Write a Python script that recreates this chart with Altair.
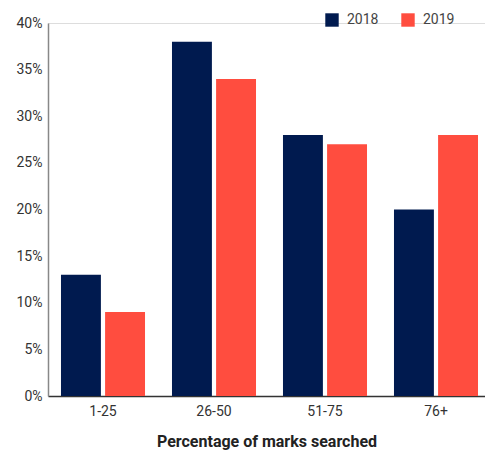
import altair as alt
import pandas as pd

# Share of respondents by percentage of marks searched
ranges = ["1-25", "26-50", "51-75", "76+"]
share_2018 = [13, 38, 28, 20]
share_2019 = [9, 34, 27, 28]
years = ["2018", "2019"]
colors = ["#001A4F", "#FF4D3F"]

rows = []
for r, a, b in zip(ranges, share_2018, share_2019):
    rows.append({"range": r, "year": years[0], "share": a / 100})
    rows.append({"range": r, "year": years[1], "share": b / 100})
df = pd.DataFrame(rows)

FONT = "Roboto"

chart = (
    alt.Chart(df)
    .mark_bar()
    .encode(
        x=alt.X(
            "range:N",
            sort=ranges,
            scale=alt.Scale(paddingInner=0.243, paddingOuter=0.09, align=0.65),
            axis=alt.Axis(
                title="Percentage of marks searched",
                labelAngle=0,
                labelFontSize=14,
                labelColor="#333333",
                labelPadding=8,
                ticks=False,
                domainColor="#333333",
                domainWidth=1.5,
                titleFontSize=16,
                titleFontWeight="bold",
                titleColor="#222222",
                titlePadding=15,
            ),
        ),
        xOffset=alt.XOffset(
            "year:N", sort=years, scale=alt.Scale(paddingInner=0.095, paddingOuter=0)
        ),
        y=alt.Y(
            "share:Q",
            scale=alt.Scale(domain=[0, 0.4], nice=False),
            axis=alt.Axis(
                title=None,
                format=".0%",
                values=[0, 0.05, 0.1, 0.15, 0.2, 0.25, 0.3, 0.35, 0.4],
                labelFontSize=14,
                labelColor="#333333",
                labelPadding=6,
                ticks=False,
                grid=False,
                domainColor="#888888",
                domainWidth=1.5,
            ),
        ),
        color=alt.Color(
            "year:N",
            sort=years,
            scale=alt.Scale(domain=years, range=colors),
            legend=alt.Legend(
                title=None,
                orient="none",
                direction="horizontal",
                legendX=277,
                legendY=-10,
                symbolType="square",
                symbolSize=180,
                symbolStrokeWidth=0,
                labelFontSize=14,
                labelColor="#444444",
                columnPadding=22,
                labelOffset=8,
            ),
        ),
    )
    .properties(
        width=437,
        height=373,
        padding={"left": 48, "top": 23, "right": 0, "bottom": 55},
        autosize=alt.AutoSizeParams(type="none"),
    )
    .configure_view(stroke=None)
    .configure(font=FONT)
)

chart.save("out.html", embed_options={"renderer": "svg", "actions": False})
